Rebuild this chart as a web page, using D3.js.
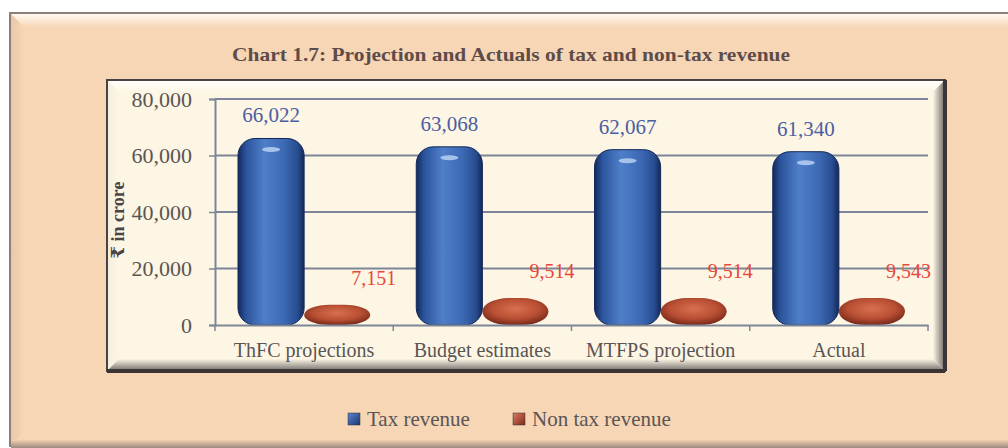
<!DOCTYPE html>
<html>
<head>
<meta charset="utf-8">
<script src="https://cdn.jsdelivr.net/npm/d3@7"></script>
<style>
  body { margin: 0; background: #ffffff; }
  svg { display: block; }
</style>
</head>
<body>
<div id="chart"></div>
<script>
let chart_width = 1008;
let chart_height = 448;
let serif = '"Liberation Serif", "Times New Roman", "DejaVu Serif", serif';

let categories = ['ThFC projections', 'Budget estimates', 'MTFPS projection', 'Actual'];
let series = ['Tax revenue', 'Non tax revenue'];
let tax_revenue = [66022, 63068, 62067, 61340];
let non_tax_revenue = [7151, 9514, 9514, 9543];
let y_ticks = [0, 20000, 40000, 60000, 80000];

let title_text = 'Chart 1.7: Projection and Actuals of tax and non-tax revenue';
let y_title = '₹ in crore';

let fmt = d3.format(',');

let svg = d3.select('#chart')
    .append('svg')
    .attr('width', chart_width)
    .attr('height', chart_height)
    .style('font-family', serif);

let defs = svg.append('defs');

function linGrad(id, x1, y1, x2, y2, stops){
    let g = defs.append('linearGradient')
        .attr('id', id)
        .attr('x1', x1).attr('y1', y1).attr('x2', x2).attr('y2', y2);
    stops.forEach(s => g.append('stop').attr('offset', s[0]).attr('stop-color', s[1]));
}

// bevel gradients
linGrad('bevTop', 0, 0, 0, 1, [['0%', '#fffaf0'], ['100%', '#f7d6b6']]);
linGrad('bevLeft', 0, 0, 1, 0, [['0%', '#e9c8a8'], ['100%', '#f7d6b6']]);
linGrad('bevBottom', 0, 0, 0, 1, [['0%', '#f2cfae'], ['100%', '#9c8a80']]);
linGrad('inTop', 0, 0, 0, 1, [['0%', '#ffffff'], ['100%', '#fdf6e4']]);
linGrad('inLeft', 0, 0, 1, 0, [['0%', '#f4eee0'], ['100%', '#fdf6e4']]);
linGrad('inRight', 0, 0, 1, 0, [['0%', '#fdf6e4'], ['100%', '#6c6666']]);
linGrad('inBottom', 0, 0, 0, 1, [['0%', '#fdf6e4'], ['100%', '#6f6a6a']]);

// bar gradients
linGrad('blueBar', 0, 0, 1, 0, [
    ['0%', '#14295a'], ['12%', '#2b549c'], ['40%', '#4f7fc9'],
    ['70%', '#3d69b4'], ['90%', '#284d90'], ['100%', '#13285a']]);
let rg = defs.append('radialGradient').attr('id', 'redBar')
    .attr('cx', '50%').attr('cy', '40%').attr('r', '60%');
rg.append('stop').attr('offset', '0%').attr('stop-color', '#d8704f');
rg.append('stop').attr('offset', '60%').attr('stop-color', '#b94f33');
rg.append('stop').attr('offset', '100%').attr('stop-color', '#7a2a1a');
linGrad('blueKey', 0, 0, 1, 1, [['0%', '#5a86d0'], ['100%', '#1b3570']]);
linGrad('redKey', 0, 0, 1, 1, [['0%', '#e07a60'], ['100%', '#7a2a1a']]);

// outer frame
svg.append('rect')
    .attr('x', 10).attr('y', 13)
    .attr('width', 1010).attr('height', 433)
    .attr('fill', '#f7d6b6')
    .attr('stroke', '#8b7f7a').attr('stroke-width', 2);
svg.append('polygon')
    .attr('points', '11,14 1008,14 1008,27 24,27')
    .attr('fill', 'url(#bevTop)');
svg.append('polygon')
    .attr('points', '11,14 24,27 24,432 11,445')
    .attr('fill', 'url(#bevLeft)');
svg.append('rect')
    .attr('x', 11).attr('y', 440)
    .attr('width', 1000).attr('height', 8)
    .attr('fill', 'url(#bevBottom)');

// title
svg.append('text')
    .text(title_text)
    .attr('x', 232)
    .attr('y', 61)
    .attr('textLength', 558)
    .attr('lengthAdjust', 'spacingAndGlyphs')
    .attr('fill', '#5e4c4a')
    .style('font-family', serif)
    .style('font-size', '19px')
    .style('font-weight', 'bold');

// inner panel
let px = 107, py = 80, pw = 838, ph = 291, bv = 12;
svg.append('rect')
    .attr('x', px).attr('y', py)
    .attr('width', pw).attr('height', ph)
    .attr('fill', '#fdf6e4');
svg.append('polygon')
    .attr('points', [[px, py], [px + pw, py], [px + pw - bv, py + bv], [px + bv, py + bv]].join(' '))
    .attr('fill', 'url(#inTop)');
svg.append('polygon')
    .attr('points', [[px, py], [px + bv, py + bv], [px + bv, py + ph - bv], [px, py + ph]].join(' '))
    .attr('fill', 'url(#inLeft)');
svg.append('polygon')
    .attr('points', [[px + pw, py], [px + pw, py + ph], [px + pw - bv, py + ph - bv], [px + pw - bv, py + bv]].join(' '))
    .attr('fill', 'url(#inRight)');
svg.append('polygon')
    .attr('points', [[px, py + ph], [px + pw, py + ph], [px + pw - bv, py + ph - bv], [px + bv, py + ph - bv]].join(' '))
    .attr('fill', 'url(#inBottom)');
svg.append('rect')
    .attr('x', px).attr('y', py)
    .attr('width', pw).attr('height', ph)
    .attr('fill', 'none')
    .attr('stroke', '#4a4242').attr('stroke-width', 2);
svg.append('line')
    .attr('x1', px + pw).attr('x2', px + pw)
    .attr('y1', py).attr('y2', py + ph)
    .attr('stroke', '#3a3434').attr('stroke-width', 4);
svg.append('line')
    .attr('x1', px).attr('x2', px + pw)
    .attr('y1', py + ph).attr('y2', py + ph)
    .attr('stroke', '#3a3434').attr('stroke-width', 4);

// scales
let xScale = d3.scaleBand().domain(categories).range([215, 928]);
let xInner = d3.scaleBand().domain(series).range([23, xScale.bandwidth() - 23]);
let yScale = d3.scaleLinear().domain([0, 80000]).range([325, 99]);

// grid
let grid = svg.append('g').attr('class', 'grid');
grid.selectAll('line')
    .data(y_ticks.filter(t => t > 0))
    .enter()
    .append('line')
    .attr('x1', 215)
    .attr('x2', 928)
    .attr('y1', d => yScale(d))
    .attr('y2', d => yScale(d))
    .attr('stroke', '#7f8598')
    .attr('stroke-width', 2);

// y axis
let yAxis = svg.append('g')
    .attr('transform', 'translate(215,0)')
    .call(d3.axisLeft(yScale).tickValues(y_ticks).tickFormat(fmt).tickSize(6).tickPadding(17));
yAxis.attr('font-family', null).attr('font-size', null);
yAxis.select('.domain').attr('stroke', '#7f8598').attr('stroke-width', 2);
yAxis.selectAll('.tick line').attr('stroke', '#7f8598').attr('stroke-width', 1.5);
yAxis.selectAll('.tick text')
    .attr('fill', '#5a5555')
    .style('font-size', '22px')
    .style('font-family', serif);

svg.append('text')
    .text(y_title)
    .attr('transform', 'translate(124,220) rotate(-90)')
    .attr('text-anchor', 'middle')
    .attr('fill', '#4a4444')
    .style('font-family', serif)
    .style('font-size', '18px')
    .style('font-weight', 'bold');

// bars
let rows = categories.map((c, i) => ({cat: c, vals: [
    {s: series[0], v: tax_revenue[i]},
    {s: series[1], v: non_tax_revenue[i]}
]}));

let groups = svg.append('g')
    .attr('id', 'bars')
    .selectAll('g')
    .data(rows)
    .enter()
    .append('g')
    .attr('transform', d => 'translate(' + xScale(d.cat) + ',0)');

// tax bars
groups.append('rect')
    .attr('x', d => xInner(series[0]))
    .attr('y', d => yScale(d.vals[0].v))
    .attr('width', xInner.bandwidth())
    .attr('height', d => yScale(0) - yScale(d.vals[0].v))
    .attr('rx', 17).attr('ry', 17)
    .attr('fill', 'url(#blueBar)')
    .attr('stroke', '#13285a').attr('stroke-width', 1);
groups.append('ellipse')
    .attr('cx', d => xInner(series[0]) + xInner.bandwidth() / 2)
    .attr('cy', d => yScale(d.vals[0].v) + 11)
    .attr('rx', 9).attr('ry', 2.5)
    .attr('fill', '#b8d0f2')
    .attr('opacity', 0.85);

// non-tax bars
groups.append('rect')
    .attr('x', d => xInner(series[1]))
    .attr('y', d => yScale(d.vals[1].v))
    .attr('width', xInner.bandwidth())
    .attr('height', d => yScale(0) - yScale(d.vals[1].v))
    .attr('rx', 26)
    .attr('ry', d => (yScale(0) - yScale(d.vals[1].v)) / 2)
    .attr('fill', 'url(#redBar)');

// value labels
groups.append('text')
    .text(d => fmt(d.vals[0].v))
    .attr('x', d => xInner(series[0]) + xInner.bandwidth() / 2)
    .attr('y', d => yScale(d.vals[0].v) - 16)
    .attr('text-anchor', 'middle')
    .attr('fill', '#4b5ea3')
    .style('font-family', serif)
    .style('font-size', '21px');
groups.append('text')
    .text(d => fmt(d.vals[1].v))
    .attr('x', d => xInner(series[1]) + xInner.bandwidth() + 26)
    .attr('y', d => yScale(d.vals[1].v) - 20)
    .attr('text-anchor', 'end')
    .attr('fill', '#e8473a')
    .style('font-family', serif)
    .style('font-size', '20px');

// x axis
let xAxis = svg.append('g')
    .attr('transform', 'translate(0,325)')
    .call(d3.axisBottom(xScale).tickSize(0).tickPadding(18));
xAxis.attr('font-family', null).attr('font-size', null);
xAxis.select('.domain').attr('stroke', '#7f8598').attr('stroke-width', 2);
xAxis.selectAll('.tick text')
    .attr('fill', '#5a5555')
    .style('font-size', '20px')
    .style('font-family', serif);
svg.append('g')
    .selectAll('line')
    .data(categories.concat(['end']))
    .enter()
    .append('line')
    .attr('x1', (d, i) => i < categories.length ? xScale(d) : xScale.range()[1])
    .attr('x2', (d, i) => i < categories.length ? xScale(d) : xScale.range()[1])
    .attr('y1', 325)
    .attr('y2', 331)
    .attr('stroke', '#7f8598')
    .attr('stroke-width', 1.5);

// legend
let legend = svg.append('g').attr('id', 'legend');
let legendX = [348, 513];
let legendFill = ['url(#blueKey)', 'url(#redKey)'];
series.forEach(function(s, i){
    legend.append('rect')
        .attr('x', legendX[i])
        .attr('y', 413)
        .attr('width', 12)
        .attr('height', 12)
        .attr('fill', legendFill[i])
        .attr('stroke', '#333').attr('stroke-width', 0.5);
    legend.append('text')
        .text(s)
        .attr('x', legendX[i] + 19)
        .attr('y', 426)
        .attr('fill', '#5a5555')
        .style('font-family', serif)
        .style('font-size', '21px');
});
</script>
</body>
</html>
